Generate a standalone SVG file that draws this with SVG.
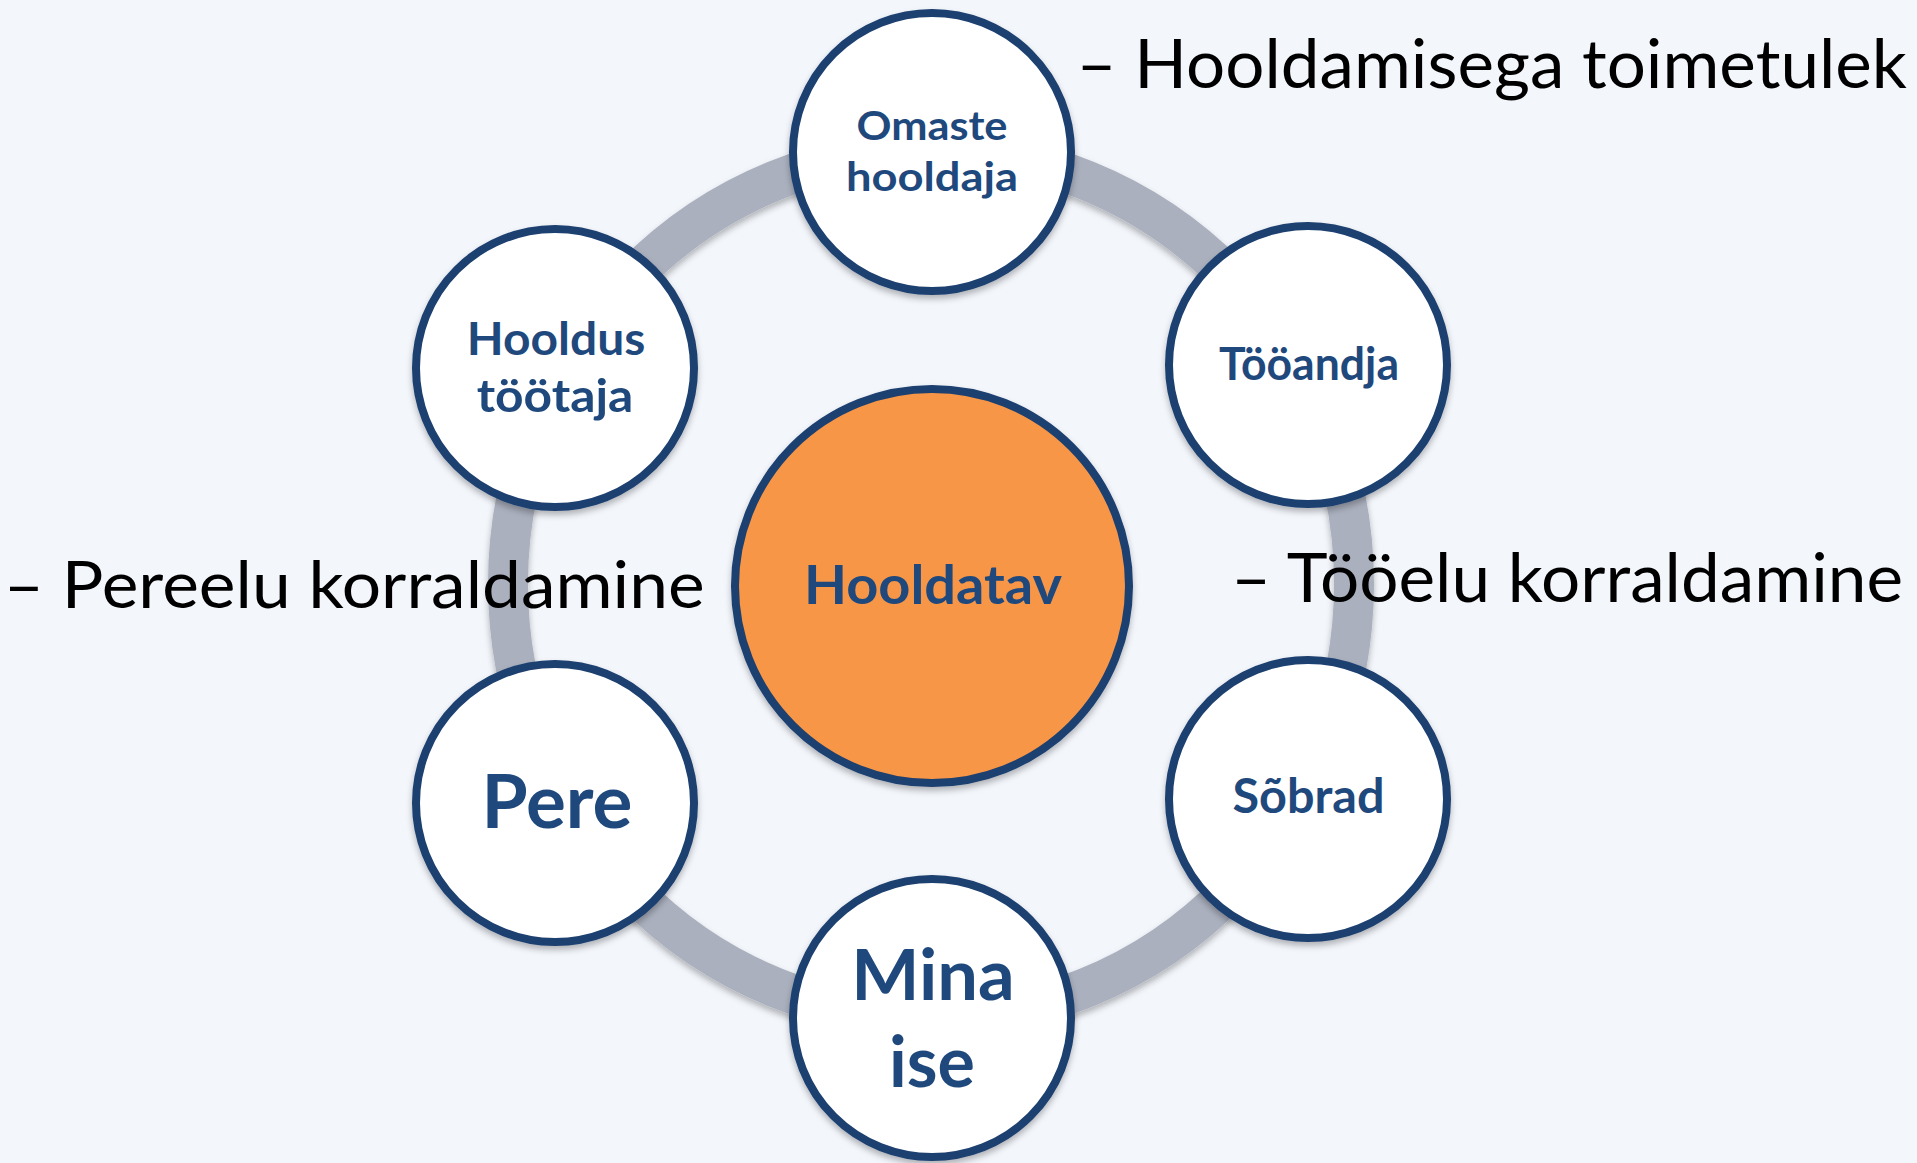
<svg xmlns="http://www.w3.org/2000/svg" width="1917" height="1163" viewBox="0 0 1917 1163">
  <defs>
    <filter id="sh" x="-20%" y="-20%" width="140%" height="140%">
      <feDropShadow dx="0" dy="4" stdDeviation="3" flood-color="#000" flood-opacity="0.28"/>
    </filter>
    <style>
      .bg { fill: #F3F6FB; }
      .ring { fill: none; stroke: #AAB0BE; stroke-width: 40; }
      .node { fill: #FFFFFF; stroke: #1D3F6F; stroke-width: 8; }
      .core { fill: #F79646; stroke: #1D3F6F; stroke-width: 8; }
      .lbl { font-family: Lato, "Open Sans", "Liberation Sans", sans-serif; font-weight: 700; fill: #1F497D; text-anchor: middle; }
      .side { font-family: Lato, "Open Sans", "Liberation Sans", sans-serif; font-weight: 400; fill: #000000; }
    </style>
  </defs>
  <rect class="bg" x="0" y="0" width="1917" height="1163"/>

  <g id="connectors">
    <ellipse class="ring" cx="931" cy="584" rx="423" ry="434" filter="url(#sh)"/>
  </g>

  <g id="node-hooldatav">
    <circle class="core" cx="932" cy="586" r="197" filter="url(#sh)"/>
    <text class="lbl" x="933" y="604" font-size="53" textLength="258" lengthAdjust="spacingAndGlyphs">Hooldatav</text>
  </g>

  <g id="node-omaste-hooldaja">
    <circle class="node" cx="932" cy="152" r="139" filter="url(#sh)"/>
    <text class="lbl" x="932" y="140" font-size="39.5" textLength="151" lengthAdjust="spacingAndGlyphs">Omaste</text>
    <text class="lbl" x="932" y="190.7" font-size="39.5" textLength="172" lengthAdjust="spacingAndGlyphs">hooldaja</text>
  </g>

  <g id="node-tooandja">
    <circle class="node" cx="1308" cy="365" r="139" filter="url(#sh)"/>
    <text class="lbl" x="1309" y="380" font-size="46.5" textLength="180" lengthAdjust="spacingAndGlyphs">Tööandja</text>
  </g>

  <g id="node-sobrad">
    <circle class="node" cx="1308" cy="799" r="139" filter="url(#sh)"/>
    <text class="lbl" x="1308.5" y="813.4" font-size="47" textLength="152" lengthAdjust="spacingAndGlyphs">Sõbrad</text>
  </g>

  <g id="node-mina-ise">
    <circle class="node" cx="932" cy="1018" r="139" filter="url(#sh)"/>
    <text class="lbl" x="933" y="1000.3" font-size="71" textLength="163.5" lengthAdjust="spacingAndGlyphs">Mina</text>
    <text class="lbl" x="932" y="1087" font-size="71" textLength="86" lengthAdjust="spacingAndGlyphs">ise</text>
  </g>

  <g id="node-pere">
    <circle class="node" cx="555" cy="803" r="139" filter="url(#sh)"/>
    <text class="lbl" x="557" y="828.4" font-size="75" textLength="151" lengthAdjust="spacingAndGlyphs">Pere</text>
  </g>

  <g id="node-hooldus-tootaja">
    <circle class="node" cx="555" cy="368" r="139" filter="url(#sh)"/>
    <text class="lbl" x="556" y="355" font-size="46.5" textLength="178.6" lengthAdjust="spacingAndGlyphs">Hooldus</text>
    <text class="lbl" x="555" y="412.4" font-size="46.5" textLength="156.6" lengthAdjust="spacingAndGlyphs">töötaja</text>
  </g>

  <g id="side-labels">
    <text class="side" x="1076.5" y="88.3" font-size="67" textLength="830.5" lengthAdjust="spacingAndGlyphs">– Hooldamisega toimetulek</text>
    <text class="side" x="3.7" y="608" font-size="66" textLength="701" lengthAdjust="spacingAndGlyphs">– Pereelu korraldamine</text>
    <text class="side" x="1231" y="601.6" font-size="67" textLength="672" lengthAdjust="spacingAndGlyphs">– Tööelu korraldamine</text>
  </g>
</svg>
